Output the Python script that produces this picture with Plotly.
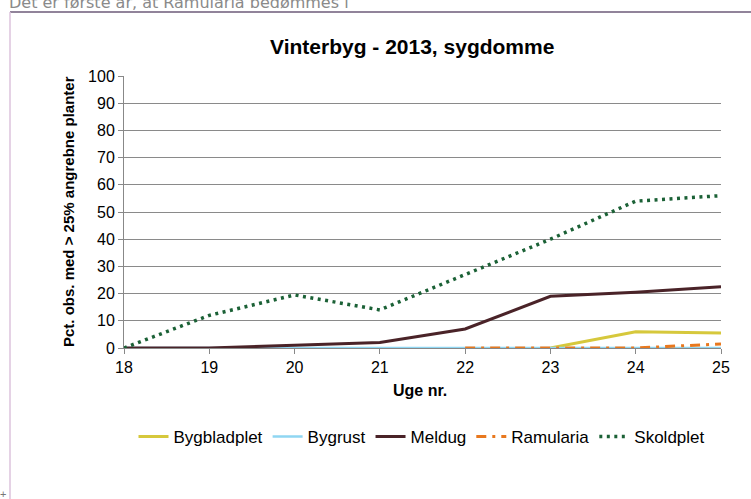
import plotly.graph_objects as go

weeks = [18, 19, 20, 21, 22, 23, 24, 25]
bygbladplet = [None, None, None, None, None, 0, 6, 5.5]
bygrust = [0, 0, 0, 0, 0, 0, 0, 0]
meldug = [0, 0, 1, 2, 7, 19, 20.5, 22.5]
ramularia = [None, None, None, None, 0, 0, 0, 1.5]
skoldplet = [0, 12, 19.5, 14, 27, 40, 54, 56]

series = [
    ("Bygbladplet", bygbladplet, "#d6c83c", "solid", 3),
    ("Bygrust", bygrust, "#8fd6f2", "solid", 2.5),
    ("Meldug", meldug, "#4a2328", "solid", 3),
    ("Ramularia", ramularia, "#e8781e", "10px,6px,3px,6px", 3),
    ("Skoldplet", skoldplet, "#1b6136", "3px,4.5px", 3.5),
]

# plot area in pixels
L, R, T, B = 124, 721, 76, 348
W, H = 751, 499


def px(x):
    return (x - L) / (R - L)


def py(y):
    return (B - y) / (B - T)


fig = go.Figure()
for name, vals, color, dash, width in series:
    fig.add_trace(go.Scatter(
        x=weeks, y=vals, name=name, mode="lines",
        line=dict(color=color, dash=dash, width=width),
    ))

font = "Liberation Sans, Arial, sans-serif"

fig.update_layout(
    width=W, height=H,
    margin=dict(l=L, r=W - R, t=T, b=H - B),
    paper_bgcolor="white", plot_bgcolor="white",
    font=dict(family=font, size=16, color="#000"),
    showlegend=True,
    legend=dict(
        orientation="h", x=px(422), xanchor="center", y=py(437), yanchor="middle",
        font=dict(size=17), itemwidth=30, tracegroupgap=0,
    ),
    xaxis=dict(
        range=[18, 25], tickvals=weeks, showgrid=False, zeroline=False,
        showline=True, linecolor="#888", ticks="outside", ticklen=5, tickcolor="#888",
        tickfont=dict(size=16), fixedrange=True,
    ),
    yaxis=dict(
        range=[0, 100], dtick=10, showgrid=True, gridcolor="#8a8a8a", gridwidth=1,
        zeroline=False, showline=True, linecolor="#888", ticks="outside", ticklen=5,
        tickcolor="#888", tickfont=dict(size=16), fixedrange=True,
    ),
)

annotations = [
    dict(text="<b>Vinterbyg - 2013, sygdomme</b>", x=px(412), y=py(47),
         font=dict(size=21)),
    dict(text="<b>Pct. obs. med > 25% angrebne planter</b>", x=px(68), y=py(212),
         textangle=-90, font=dict(size=15)),
    dict(text="<b>Uge nr.</b>", x=px(420), y=py(390), font=dict(size=16)),
    dict(text="Det er første år, at Ramularia bedømmes i", x=px(7), y=py(2),
         xanchor="left", font=dict(family="DejaVu Sans, Verdana, sans-serif", size=16, color="#8a8a8a")),
    dict(text="+", x=px(-2), y=py(494), xanchor="left",
         font=dict(size=11, color="#777")),
]
for a in annotations:
    a.update(xref="paper", yref="paper", showarrow=False)
    a.setdefault("xanchor", "center")
    a.setdefault("yanchor", "middle")
fig.update_layout(annotations=annotations)

# page frame lines around the chart
fig.add_shape(type="line", xref="paper", yref="paper",
              x0=px(10), x1=px(751), y0=py(12), y1=py(12),
              line=dict(color="#6c5a78", width=1.5))
fig.add_shape(type="line", xref="paper", yref="paper",
              x0=px(10), x1=px(10), y0=py(12), y1=py(499),
              line=dict(color="#dcc3dc", width=1.5))

fig.write_html("out.html", config=dict(displayModeBar=False),
               post_script="document.body.style.margin='0';")
